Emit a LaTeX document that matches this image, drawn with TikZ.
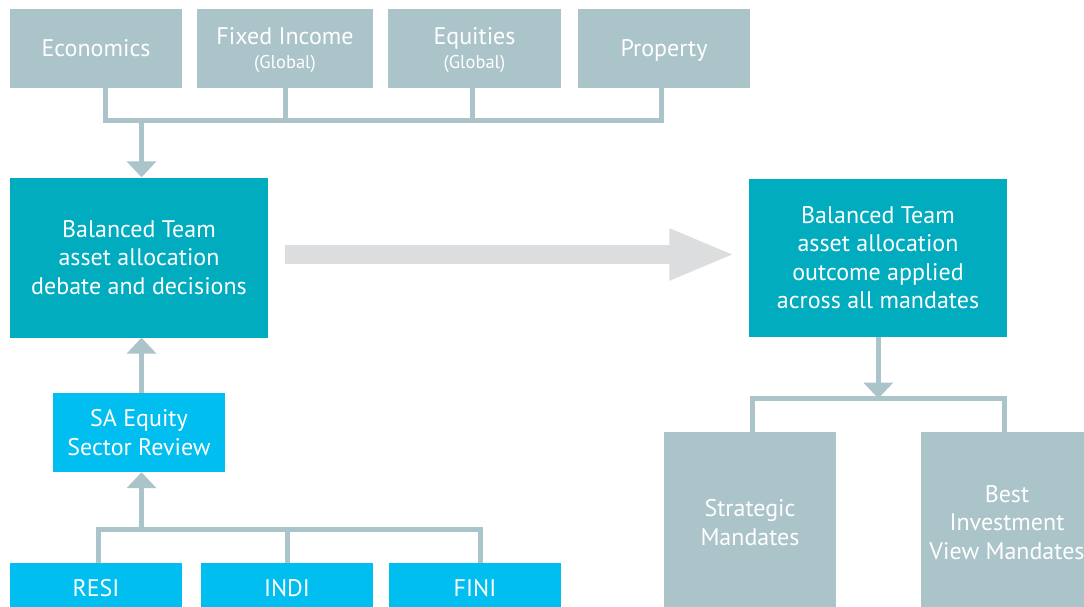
\documentclass[tikz,border=0pt]{standalone}
\usepackage{fontspec}
\setmainfont{PT Sans}
\usetikzlibrary{arrows.meta,calc}
\definecolor{gbox}{HTML}{AAC4CA}
\definecolor{tbox}{HTML}{00ACBE}
\definecolor{cbox}{HTML}{00BEF0}
\definecolor{larrow}{HTML}{DCDDDE}
\tikzset{
  base/.style={rectangle, inner sep=0pt, text=white, align=center, font=\fontsize{24}{28.5}\selectfont},
  graybox/.style={base, fill=gbox},
  tealbox/.style={base, fill=tbox},
  cyanbox/.style={base, fill=cbox},
  oneline/.style={text height=17pt, text depth=0pt},
  lowline/.style={text height=23pt, text depth=0pt},
  conn/.style={draw=gbox, line width=5pt},
  connarrow/.style={conn, -{Triangle[width=29pt,length=16pt]}},
  bigarrow/.style={draw=larrow, line width=19pt, -{Triangle[width=47pt,length=66pt]}},
  maintxt/.style={text=white, inner sep=0pt, font=\fontsize{24}{24}\selectfont, oneline},
  sub/.style={text=white, inner sep=0pt, font=\fontsize{18.5}{18.5}\selectfont}
}
\begin{document}
\begin{tikzpicture}[x=1pt,y=-1pt]
\clip (0,0) rectangle (1084,607);
\fill[white] (0,0) rectangle (1084,607);
% top row
\node[graybox, oneline, minimum width=172pt, minimum height=79pt] (eco) at (96,48.5) {Economics};
\node[graybox, minimum width=176pt, minimum height=79pt] (fix) at (285,48.5) {};
\node[graybox, minimum width=173pt, minimum height=79pt] (equ) at (474.5,48.5) {};
\node[graybox, oneline, minimum width=172pt, minimum height=79pt] (pro) at (664,48.5) {Property};
\node[maintxt] (fixt) at (285,36) {Fixed Income};
\node[sub] (fixs) at (285,63.5) {(Global)};
\node[maintxt] (equt) at (474.5,36) {Equities};
\node[sub] (equs) at (474.5,63.5) {(Global)};
% balanced team boxes
\node[tealbox, minimum width=258pt, minimum height=160pt] (bal) at (139,257.5) {Balanced Team\\asset allocation\\debate and decisions};
\node[tealbox, minimum width=258pt, minimum height=158pt] (out) at (878,257.5) {Balanced Team\\asset allocation\\outcome applied\\across all mandates};
% SA equity
\node[cyanbox, minimum width=172pt, minimum height=79pt] (sae) at (139,432.5) {SA Equity\\Sector Review};
\node[cyanbox, lowline, minimum width=172pt, minimum height=44pt] (resi) at (96,585) {RESI};
\node[cyanbox, lowline, minimum width=172pt, minimum height=44pt] (indi) at (287,585) {INDI};
\node[cyanbox, lowline, minimum width=172pt, minimum height=44pt] (fini) at (475,585) {FINI};
% mandates
\node[graybox, minimum width=172pt, minimum height=175pt] (str) at (750,519.5) {};
\node[graybox, minimum width=172pt, minimum height=175pt] (bes) at (1007,519.5) {};
\node[base] (strt) at (750,522.5) {Strategic\\Mandates};
\node[base] (best) at (1007,522.5) {Best\\Investment\\View Mandates};
% top tree
\coordinate (t1) at (105.5,120.5);
\coordinate (t2) at (285,120.5);
\coordinate (t3) at (472.5,120.5);
\coordinate (t4) at (661,120.5);
\coordinate (tj) at (141.5,120.5);
\draw[conn] (eco.south -| t1) -- (t1);
\draw[conn] (fix.south -| t2) -- (t2);
\draw[conn] (equ.south -| t3) -- (t3);
\draw[conn] (pro.south -| t4) -- (t4);
\draw[conn, line cap=rect] (t1) -- (t4);
\draw[connarrow] (tj) -- (tj |- bal.north);
% bottom tree
\coordinate (b1) at (98.5,529.5);
\coordinate (b2) at (287,529.5);
\coordinate (b3) at (480.5,529.5);
\coordinate (bj) at (141.5,529.5);
\draw[conn] (resi.north -| b1) -- (b1);
\draw[conn] (indi.north -| b2) -- (b2);
\draw[conn] (fini.north -| b3) -- (b3);
\draw[conn, line cap=rect] (b1) -- (b3);
\draw[connarrow] (bj) -- (bj |- sae.south);
\draw[connarrow] (sae.north -| bj) -- (bj |- bal.south);
% right tree
\coordinate (r0) at (878.3,336);
\coordinate (rj) at (878.3,398.5);
\coordinate (r1) at (752.5,398.5);
\coordinate (r2) at (1004.5,398.5);
\draw[connarrow] (out.south -| r0) -- (rj);
\draw[conn, line cap=rect] (r1) -- (r2);
\draw[conn] (r1) -- (r1 |- str.north);
\draw[conn] (r2) -- (r2 |- bes.north);
% big arrow
\draw[bigarrow, shorten <=17pt, shorten >=13.5pt] ([yshift=3pt]bal.east) -- ([yshift=3pt]out.west);
\end{tikzpicture}
\end{document}
